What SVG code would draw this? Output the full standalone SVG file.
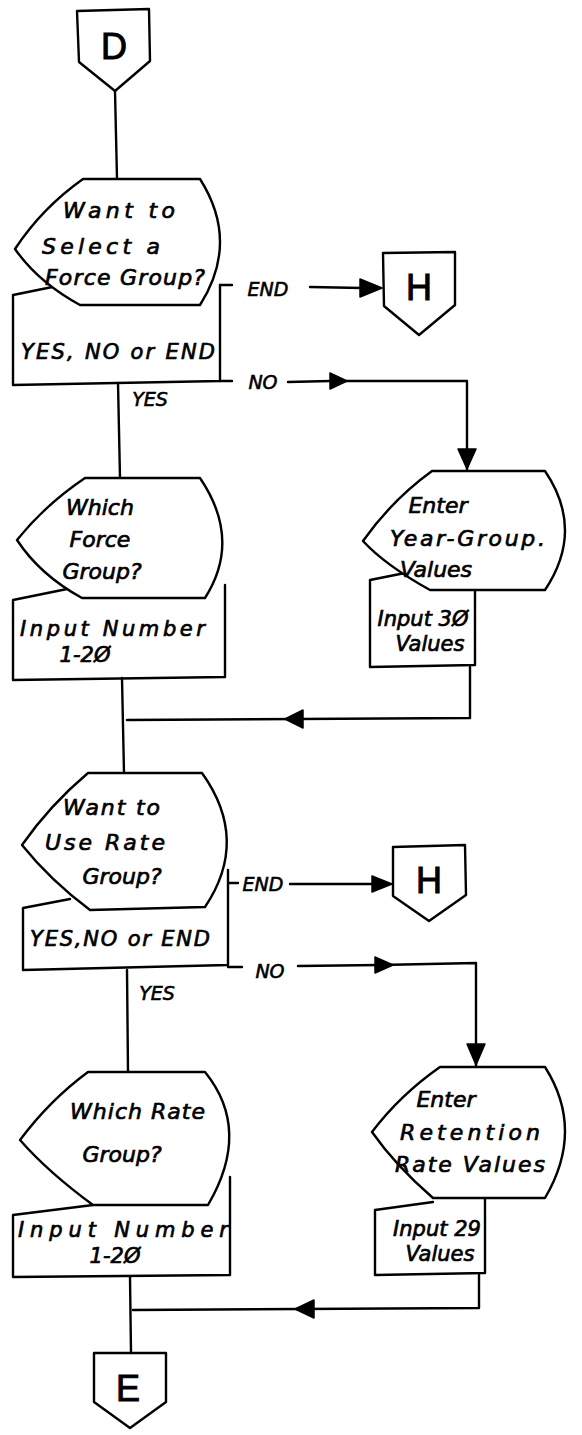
<svg xmlns="http://www.w3.org/2000/svg" width="582" height="1435" viewBox="0 0 582 1435">
<style>
.s{fill:none;stroke:#000;stroke-width:2.4;stroke-linejoin:round;stroke-linecap:round}
.f{fill:#fff;stroke:#000;stroke-width:2.4;stroke-linejoin:round}
.t{font-family:"DejaVu Sans",sans-serif;font-style:italic;font-size:22px;fill:#000;stroke:#000;stroke-width:0.7}
.m{text-anchor:middle}
.b{font-family:"DejaVu Sans",sans-serif;font-style:italic;font-size:21px;fill:#000;stroke:#000;stroke-width:0.7}
.c{font-family:"Liberation Sans",Arial,sans-serif;font-size:36px;fill:#000;stroke:#000;stroke-width:1;text-anchor:middle}
.l{font-family:"DejaVu Sans",sans-serif;font-style:italic;font-size:19px;fill:#000;stroke:#000;stroke-width:0.6;text-anchor:middle}
.a{fill:#000;stroke:#000;stroke-width:1.5;stroke-linejoin:round}
</style>
<rect width="582" height="1435" fill="#fff"/>
<g id="connectors">
<path class="s" d="M115,91 L117,179"/>
<path class="s" d="M220,285 L232,285"/>
<path class="s" d="M310,287 L362,288"/>
<path class="s" d="M220,381 L232,381"/>
<path class="s" d="M288,382 L330,381 M345,381 L467,381 L467,470"/>
<path class="s" d="M118,383 L120,478"/>
<path class="s" d="M122,678 L124,773"/>
<path class="s" d="M470,667 L470,718 L127,720"/>
<path class="s" d="M228,883 L238,883"/>
<path class="s" d="M290,884 L378,884"/>
<path class="s" d="M228,967 L242,967"/>
<path class="s" d="M298,966 L380,965 L476,963 L476,1067"/>
<path class="s" d="M127,970 L128,1072"/>
<path class="s" d="M130,1277 L131,1353"/>
<path class="s" d="M479,1275 L479,1308 L133,1310"/>
<polygon class="a" points="360,279 382,288 360,297"/>
<polygon class="a" points="330,373 347,381 330,389"/>
<polygon class="a" points="458,449 467,469 476,449"/>
<polygon class="a" points="285,719 303,710 303,728"/>
<polygon class="a" points="372,876 392,884 372,892"/>
<polygon class="a" points="375,957 393,965 375,973"/>
<polygon class="a" points="467,1044 476,1065 485,1044"/>
<polygon class="a" points="295,1309 314,1300 314,1318"/>
<text class="l" x="268" y="296">END</text>
<text class="l" x="263" y="389">NO</text>
<text class="l" x="150" y="406">YES</text>
<text class="l" x="263" y="891">END</text>
<text class="l" x="270" y="978">NO</text>
<text class="l" x="157" y="1000">YES</text>
</g>
<g id="D">
<path class="s" d="M77,11 L149,9 L150,61 L115,91 L79,62 Z"/>
<text class="c" x="114" y="59">D</text>
</g>
<g id="q1">
<path class="s" d="M72,283 L13,295 L13,385 L220,381 L220,285"/>
<path class="f" d="M83,179 L200,179 Q240,242 200,305 L80,305 Q38,282 15,249 Q42,208 83,179 Z"/>
<text class="t" x="63" y="218" textLength="112" lengthAdjust="spacing">Want to</text>
<text class="t" x="42" y="254" textLength="118" lengthAdjust="spacing">Select a</text>
<text class="t" x="45" y="285" textLength="160" lengthAdjust="spacing">Force Group?</text>
<text class="b" x="21" y="359" textLength="194" lengthAdjust="spacing">YES, NO or END</text>
</g>
<g id="H1">
<path class="s" d="M383,253 L455,252 L455,305 L419,335 L384,306 Z"/>
<text class="c" x="419" y="300">H</text>
</g>
<g id="q2">
<path class="s" d="M72,588 L13,600 L13,680 L225,677 L225,585"/>
<path class="f" d="M85,478 L200,478 Q242,540 205,598 L82,598 Q40,575 17,540 Q45,505 85,478 Z"/>
<text class="t m" x="100" y="515">Which</text>
<text class="t m" x="100" y="547">Force</text>
<text class="t m" x="102" y="579">Group?</text>
<text class="b" x="20" y="636" textLength="185" lengthAdjust="spacing">Input Number</text>
<text class="b m" x="85" y="662">1-2Ø</text>
</g>
<g id="r1">
<path class="s" d="M430,568 L370,580 L370,667 L475,665 L475,570"/>
<path class="f" d="M432,471 L545,471 Q585,530 545,590 L430,590 Q385,565 363,541 Q392,500 432,471 Z"/>
<text class="t m" x="438" y="513">Enter</text>
<text class="t" x="390" y="546" textLength="155" lengthAdjust="spacing">Year-Group.</text>
<text class="t m" x="436" y="577">Values</text>
<text class="b m" x="423" y="626">Input 3Ø</text>
<text class="b m" x="430" y="651">Values</text>
</g>
<g id="q3">
<path class="s" d="M70,899 L23,908 L23,970 L228,965 L228,870"/>
<path class="f" d="M88,773 L202,773 Q250,840 205,907 L90,910 Q50,880 22,845 Q50,805 88,773 Z"/>
<text class="t" x="63" y="815" textLength="97" lengthAdjust="spacing">Want to</text>
<text class="t" x="45" y="850" textLength="120" lengthAdjust="spacing">Use Rate</text>
<text class="t m" x="122" y="884">Group?</text>
<text class="b" x="30" y="946" textLength="180" lengthAdjust="spacing">YES,NO or END</text>
</g>
<g id="H2">
<path class="s" d="M393,847 L465,845 L466,895 L429,921 L393,896 Z"/>
<text class="c" x="429" y="893">H</text>
</g>
<g id="q4">
<path class="s" d="M93,1205 L13,1215 L13,1277 L230,1275 L230,1177"/>
<path class="f" d="M88,1072 L205,1072 Q252,1130 208,1205 L93,1205 Q48,1172 20,1140 Q50,1100 88,1072 Z"/>
<text class="t" x="70" y="1119" textLength="135" lengthAdjust="spacing">Which Rate</text>
<text class="t m" x="122" y="1162">Group?</text>
<text class="b" x="18" y="1237" textLength="210" lengthAdjust="spacing">Input Number</text>
<text class="b m" x="115" y="1263">1-2Ø</text>
</g>
<g id="r2">
<path class="s" d="M433,1202 L375,1210 L375,1275 L485,1273 L485,1190"/>
<path class="f" d="M440,1067 L545,1067 Q585,1130 545,1198 L433,1198 Q395,1165 372,1132 Q400,1095 440,1067 Z"/>
<text class="t m" x="446" y="1107">Enter</text>
<text class="t" x="400" y="1140" textLength="140" lengthAdjust="spacing">Retention</text>
<text class="t" x="395" y="1172" textLength="150" lengthAdjust="spacing">Rate Values</text>
<text class="b m" x="437" y="1236">Input 29</text>
<text class="b m" x="440" y="1261">Values</text>
</g>
<g id="E">
<path class="s" d="M94,1353 L166,1353 L166,1402 L130,1428 L94,1402 Z"/>
<text class="c" x="128" y="1401">E</text>
</g>
</svg>
